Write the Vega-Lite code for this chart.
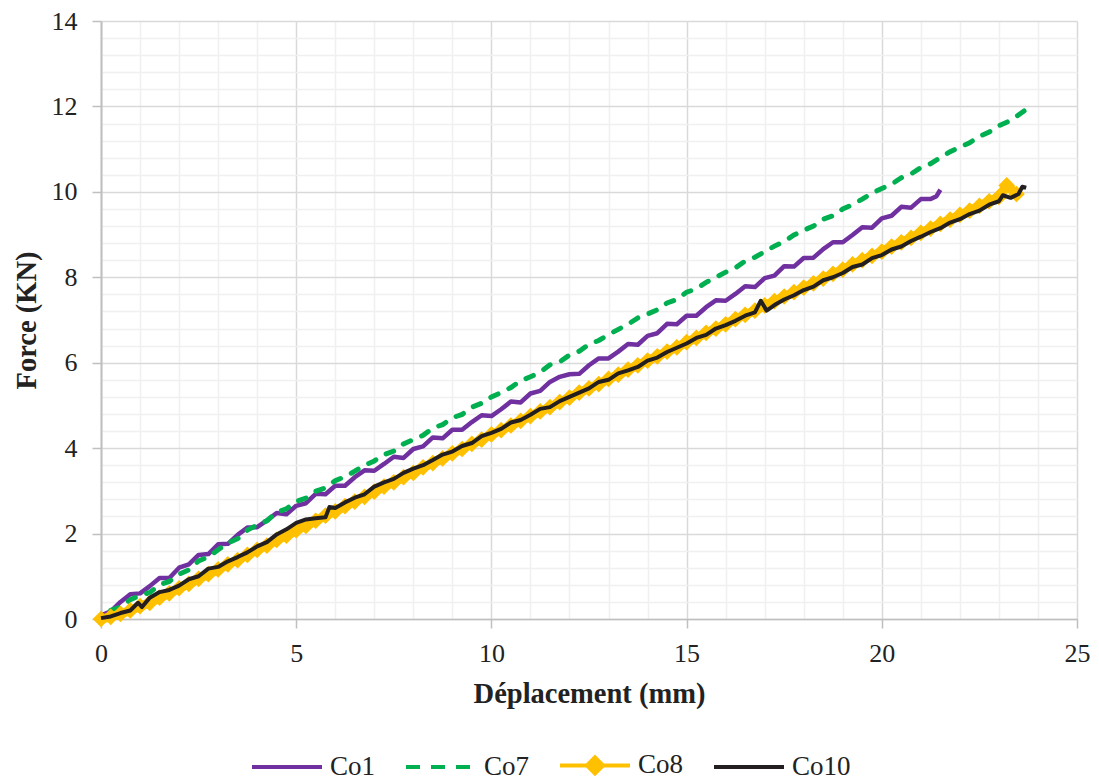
{
"$schema": "https://vega.github.io/schema/vega-lite/v6.json",
"width": 976,
"height": 598,
"autosize": {"type": "none"},
"padding": {"left": 101, "top": 21, "right": 22, "bottom": 164},
"background": "white",
"config": {"font": "Liberation Serif", "view": {"stroke": null}},
"datasets": {
"co1": [{"x":0,"y":0.08},{"x":0.25,"y":0.18},{"x":0.5,"y":0.4},{"x":0.75,"y":0.58},{"x":1,"y":0.6},{"x":1.25,"y":0.77},{"x":1.5,"y":0.96},{"x":1.75,"y":0.96},{"x":2,"y":1.2},{"x":2.25,"y":1.28},{"x":2.5,"y":1.5},{"x":2.75,"y":1.52},{"x":3,"y":1.75},{"x":3.25,"y":1.76},{"x":3.5,"y":1.97},{"x":3.75,"y":2.14},{"x":4,"y":2.15},{"x":4.25,"y":2.31},{"x":4.5,"y":2.48},{"x":4.75,"y":2.45},{"x":5,"y":2.65},{"x":5.25,"y":2.71},{"x":5.5,"y":2.93},{"x":5.75,"y":2.92},{"x":6,"y":3.12},{"x":6.25,"y":3.12},{"x":6.5,"y":3.32},{"x":6.75,"y":3.48},{"x":7,"y":3.47},{"x":7.25,"y":3.63},{"x":7.5,"y":3.8},{"x":7.75,"y":3.77},{"x":8,"y":3.98},{"x":8.25,"y":4.04},{"x":8.5,"y":4.25},{"x":8.75,"y":4.23},{"x":9,"y":4.43},{"x":9.25,"y":4.43},{"x":9.5,"y":4.61},{"x":9.75,"y":4.77},{"x":10,"y":4.75},{"x":10.25,"y":4.91},{"x":10.5,"y":5.09},{"x":10.75,"y":5.07},{"x":11,"y":5.28},{"x":11.25,"y":5.34},{"x":11.5,"y":5.55},{"x":11.75,"y":5.67},{"x":12,"y":5.73},{"x":12.25,"y":5.74},{"x":12.5,"y":5.94},{"x":12.75,"y":6.1},{"x":13,"y":6.1},{"x":13.25,"y":6.26},{"x":13.5,"y":6.44},{"x":13.75,"y":6.42},{"x":14,"y":6.63},{"x":14.25,"y":6.69},{"x":14.5,"y":6.91},{"x":14.75,"y":6.9},{"x":15,"y":7.1},{"x":15.25,"y":7.1},{"x":15.5,"y":7.3},{"x":15.75,"y":7.46},{"x":16,"y":7.45},{"x":16.25,"y":7.61},{"x":16.5,"y":7.79},{"x":16.75,"y":7.77},{"x":17,"y":7.98},{"x":17.25,"y":8.04},{"x":17.5,"y":8.26},{"x":17.75,"y":8.25},{"x":18,"y":8.45},{"x":18.25,"y":8.46},{"x":18.5,"y":8.66},{"x":18.75,"y":8.82},{"x":19,"y":8.82},{"x":19.25,"y":8.99},{"x":19.5,"y":9.17},{"x":19.75,"y":9.16},{"x":20,"y":9.38},{"x":20.25,"y":9.44},{"x":20.5,"y":9.65},{"x":20.75,"y":9.63},{"x":21,"y":9.83},{"x":21.25,"y":9.83},{"x":21.4,"y":9.9},{"x":21.5,"y":10.05}],
"co7": [{"x":0.25,"y":0.2},{"x":0.5,"y":0.28},{"x":0.75,"y":0.45},{"x":1,"y":0.55},{"x":1.25,"y":0.62},{"x":1.5,"y":0.8},{"x":1.75,"y":0.88},{"x":2,"y":1.05},{"x":2.25,"y":1.15},{"x":2.5,"y":1.36},{"x":2.75,"y":1.45},{"x":3,"y":1.62},{"x":3.25,"y":1.78},{"x":3.5,"y":1.88},{"x":3.75,"y":2.08},{"x":4,"y":2.2},{"x":4.25,"y":2.3},{"x":4.5,"y":2.5},{"x":4.75,"y":2.58},{"x":5,"y":2.75},{"x":5.25,"y":2.83},{"x":5.5,"y":2.99},{"x":5.75,"y":3.07},{"x":6,"y":3.24},{"x":6.25,"y":3.33},{"x":6.5,"y":3.46},{"x":6.75,"y":3.6},{"x":7,"y":3.7},{"x":7.25,"y":3.85},{"x":7.5,"y":3.93},{"x":7.75,"y":4.1},{"x":8,"y":4.2},{"x":8.25,"y":4.3},{"x":8.5,"y":4.47},{"x":8.75,"y":4.55},{"x":9,"y":4.71},{"x":9.25,"y":4.79},{"x":9.5,"y":4.96},{"x":9.75,"y":5.05},{"x":10,"y":5.2},{"x":10.25,"y":5.3},{"x":10.5,"y":5.42},{"x":10.75,"y":5.58},{"x":11,"y":5.67},{"x":11.25,"y":5.78},{"x":11.5,"y":5.95},{"x":11.75,"y":6.02},{"x":12,"y":6.18},{"x":12.25,"y":6.27},{"x":12.5,"y":6.43},{"x":12.75,"y":6.52},{"x":13,"y":6.66},{"x":13.25,"y":6.78},{"x":13.5,"y":6.9},{"x":13.75,"y":7.05},{"x":14,"y":7.14},{"x":14.25,"y":7.24},{"x":14.5,"y":7.4},{"x":14.75,"y":7.48},{"x":15,"y":7.65},{"x":15.25,"y":7.73},{"x":15.5,"y":7.88},{"x":15.75,"y":8},{"x":16,"y":8.12},{"x":16.25,"y":8.22},{"x":16.5,"y":8.38},{"x":16.75,"y":8.47},{"x":17,"y":8.6},{"x":17.25,"y":8.73},{"x":17.5,"y":8.84},{"x":17.75,"y":8.99},{"x":18,"y":9.1},{"x":18.25,"y":9.2},{"x":18.5,"y":9.36},{"x":18.75,"y":9.44},{"x":19,"y":9.6},{"x":19.25,"y":9.7},{"x":19.5,"y":9.83},{"x":19.75,"y":9.97},{"x":20,"y":10.08},{"x":20.25,"y":10.18},{"x":20.5,"y":10.33},{"x":20.75,"y":10.42},{"x":21,"y":10.57},{"x":21.25,"y":10.66},{"x":21.5,"y":10.8},{"x":21.75,"y":10.94},{"x":22,"y":11.05},{"x":22.25,"y":11.15},{"x":22.5,"y":11.3},{"x":22.75,"y":11.4},{"x":23,"y":11.55},{"x":23.25,"y":11.65},{"x":23.5,"y":11.8},{"x":23.7,"y":11.93}],
"co8": [{"x":0,"y":0},{"x":0.25,"y":0.05},{"x":0.5,"y":0.12},{"x":0.75,"y":0.2},{"x":1,"y":0.3},{"x":1.25,"y":0.38},{"x":1.5,"y":0.5},{"x":1.75,"y":0.6},{"x":2,"y":0.72},{"x":2.25,"y":0.82},{"x":2.5,"y":0.94},{"x":2.75,"y":1.05},{"x":3,"y":1.16},{"x":3.25,"y":1.28},{"x":3.5,"y":1.38},{"x":3.75,"y":1.5},{"x":4,"y":1.62},{"x":4.25,"y":1.72},{"x":4.5,"y":1.85},{"x":4.75,"y":1.95},{"x":5,"y":2.08},{"x":5.25,"y":2.18},{"x":5.5,"y":2.3},{"x":5.75,"y":2.42},{"x":6,"y":2.52},{"x":6.25,"y":2.64},{"x":6.5,"y":2.75},{"x":6.75,"y":2.86},{"x":7,"y":2.98},{"x":7.25,"y":3.1},{"x":7.5,"y":3.2},{"x":7.75,"y":3.32},{"x":8,"y":3.42},{"x":8.25,"y":3.55},{"x":8.5,"y":3.65},{"x":8.75,"y":3.76},{"x":9,"y":3.88},{"x":9.25,"y":3.98},{"x":9.5,"y":4.1},{"x":9.75,"y":4.2},{"x":10,"y":4.32},{"x":10.25,"y":4.42},{"x":10.5,"y":4.53},{"x":10.75,"y":4.64},{"x":11,"y":4.75},{"x":11.25,"y":4.86},{"x":11.5,"y":4.96},{"x":11.75,"y":5.08},{"x":12,"y":5.18},{"x":12.25,"y":5.3},{"x":12.5,"y":5.4},{"x":12.75,"y":5.5},{"x":13,"y":5.62},{"x":13.25,"y":5.72},{"x":13.5,"y":5.84},{"x":13.75,"y":5.94},{"x":14,"y":6.05},{"x":14.25,"y":6.15},{"x":14.5,"y":6.26},{"x":14.75,"y":6.36},{"x":15,"y":6.48},{"x":15.25,"y":6.58},{"x":15.5,"y":6.7},{"x":15.75,"y":6.8},{"x":16,"y":6.9},{"x":16.25,"y":7.02},{"x":16.5,"y":7.12},{"x":16.75,"y":7.22},{"x":17,"y":7.34},{"x":17.25,"y":7.44},{"x":17.5,"y":7.55},{"x":17.75,"y":7.65},{"x":18,"y":7.76},{"x":18.25,"y":7.86},{"x":18.5,"y":7.97},{"x":18.75,"y":8.08},{"x":19,"y":8.18},{"x":19.25,"y":8.3},{"x":19.5,"y":8.4},{"x":19.75,"y":8.5},{"x":20,"y":8.6},{"x":20.25,"y":8.72},{"x":20.5,"y":8.82},{"x":20.75,"y":8.92},{"x":21,"y":9.04},{"x":21.25,"y":9.14},{"x":21.5,"y":9.25},{"x":21.75,"y":9.35},{"x":22,"y":9.46},{"x":22.25,"y":9.56},{"x":22.5,"y":9.67},{"x":22.75,"y":9.78},{"x":23,"y":9.88},{"x":23.2,"y":10.15},{"x":23.45,"y":9.95}],
"co10": [{"x":0,"y":0.02},{"x":0.25,"y":0.06},{"x":0.5,"y":0.14},{"x":0.75,"y":0.2},{"x":0.95,"y":0.38},{"x":1.05,"y":0.28},{"x":1.25,"y":0.5},{"x":1.5,"y":0.63},{"x":1.75,"y":0.68},{"x":2,"y":0.78},{"x":2.25,"y":0.93},{"x":2.5,"y":1},{"x":2.75,"y":1.18},{"x":3,"y":1.22},{"x":3.25,"y":1.35},{"x":3.5,"y":1.45},{"x":3.75,"y":1.56},{"x":4,"y":1.7},{"x":4.25,"y":1.8},{"x":4.5,"y":1.98},{"x":4.75,"y":2.1},{"x":5,"y":2.25},{"x":5.25,"y":2.33},{"x":5.5,"y":2.36},{"x":5.75,"y":2.38},{"x":5.85,"y":2.62},{"x":6,"y":2.6},{"x":6.25,"y":2.73},{"x":6.5,"y":2.84},{"x":6.75,"y":2.92},{"x":7,"y":3.1},{"x":7.25,"y":3.2},{"x":7.5,"y":3.28},{"x":7.75,"y":3.42},{"x":8,"y":3.52},{"x":8.25,"y":3.6},{"x":8.5,"y":3.72},{"x":8.75,"y":3.85},{"x":9,"y":3.92},{"x":9.25,"y":4.05},{"x":9.5,"y":4.12},{"x":9.75,"y":4.28},{"x":10,"y":4.36},{"x":10.25,"y":4.45},{"x":10.5,"y":4.6},{"x":10.75,"y":4.66},{"x":11,"y":4.78},{"x":11.25,"y":4.92},{"x":11.5,"y":4.96},{"x":11.75,"y":5.1},{"x":12,"y":5.2},{"x":12.25,"y":5.3},{"x":12.5,"y":5.4},{"x":12.75,"y":5.55},{"x":13,"y":5.6},{"x":13.25,"y":5.75},{"x":13.5,"y":5.82},{"x":13.75,"y":5.9},{"x":14,"y":6.05},{"x":14.25,"y":6.12},{"x":14.5,"y":6.25},{"x":14.75,"y":6.35},{"x":15,"y":6.45},{"x":15.25,"y":6.58},{"x":15.5,"y":6.65},{"x":15.75,"y":6.8},{"x":16,"y":6.88},{"x":16.25,"y":6.98},{"x":16.5,"y":7.1},{"x":16.75,"y":7.18},{"x":16.9,"y":7.45},{"x":17.05,"y":7.22},{"x":17.25,"y":7.35},{"x":17.5,"y":7.48},{"x":17.75,"y":7.58},{"x":18,"y":7.7},{"x":18.25,"y":7.78},{"x":18.5,"y":7.93},{"x":18.75,"y":8},{"x":19,"y":8.1},{"x":19.25,"y":8.24},{"x":19.5,"y":8.3},{"x":19.75,"y":8.45},{"x":20,"y":8.52},{"x":20.25,"y":8.65},{"x":20.5,"y":8.72},{"x":20.75,"y":8.85},{"x":21,"y":8.95},{"x":21.25,"y":9.06},{"x":21.5,"y":9.15},{"x":21.75,"y":9.28},{"x":22,"y":9.36},{"x":22.25,"y":9.48},{"x":22.5,"y":9.56},{"x":22.75,"y":9.7},{"x":23,"y":9.78},{"x":23.1,"y":9.92},{"x":23.3,"y":9.86},{"x":23.5,"y":9.95},{"x":23.6,"y":10.12},{"x":23.7,"y":10.1}]
},
"layer": [
{
"data": {"name": "co1"},
"mark": {"type": "line", "strokeWidth": 4.5, "strokeJoin": "round"},
"encoding": {
"x": {"field": "x", "type": "quantitative", "scale": {"domain": [0, 25], "nice": false},
"axis": {"title": "Déplacement (mm)", "values": [0,1,2,3,4,5,6,7,8,9,10,11,12,13,14,15,16,17,18,19,20,21,22,23,24,25], "tickCount": 200, "tickMinStep": 0.1, "format": "d",
"labelExpr": "datum.value % 5 === 0 ? datum.label : ''",
"grid": true,
"gridColor": {"condition": {"test": "datum.value % 5 === 0", "value": "#D9D9D9"}, "value": "#F0F0F0"},
"gridWidth": 1.5,
"tickColor": "#BFBFBF", "tickWidth": 1.5, "tickSize": 9,
"tickOpacity": {"condition": {"test": "datum.value % 5 === 0", "value": 1}, "value": 0},
"domainColor": "#BFBFBF", "domainWidth": 1.5,
"labelFont": "Liberation Serif", "labelFontSize": 26, "labelColor": "#222222", "labelPadding": 12,
"labelFlush": false, "labelOverlap": false,
"titleFont": "Liberation Serif", "titleFontSize": 28.5, "titleFontWeight": "bold", "titleColor": "#222222", "titlePadding": 13}},
"y": {"field": "y", "type": "quantitative", "scale": {"domain": [0, 14], "nice": false},
"axis": {"title": "Force (KN)", "values": [0,0.4,0.8,1.2,1.6,2,2.4,2.8,3.2,3.6,4,4.4,4.8,5.2,5.6,6,6.4,6.8,7.2,7.6,8,8.4,8.8,9.2,9.6,10,10.4,10.8,11.2,11.6,12,12.4,12.8,13.2,13.6,14], "tickCount": 200, "tickMinStep": 0.1,
"labelExpr": "abs(datum.value/2 - round(datum.value/2)) < 0.01 ? format(datum.value, 'd') : ''",
"grid": true,
"gridColor": {"condition": {"test": "abs(datum.value/2 - round(datum.value/2)) < 0.01", "value": "#D9D9D9"}, "value": "#F0F0F0"},
"gridWidth": 1.5,
"tickColor": "#BFBFBF", "tickWidth": 1.5, "tickSize": 9,
"tickOpacity": {"condition": {"test": "abs(datum.value/2 - round(datum.value/2)) < 0.01", "value": 1}, "value": 0},
"domainColor": "#BFBFBF", "domainWidth": 2,
"labelFont": "Liberation Serif", "labelFontSize": 26, "labelColor": "#222222", "labelPadding": 15,
"labelFlush": false, "labelOverlap": false,
"titleFont": "Liberation Serif", "titleFontSize": 28.5, "titleFontWeight": "bold", "titleColor": "#222222", "titlePadding": 10}},
"color": {"datum": "Co1", "type": "nominal",
"scale": {"domain": ["Co1", "Co7", "Co8", "Co10"], "range": ["#7030A0", "#00B050", "#FFC000", "#231F20"]},
"legend": {"orient": "none", "legendX": 149, "legendY": 707, "direction": "horizontal", "title": null,
"labelFont": "Liberation Serif", "labelFontSize": 27, "labelColor": "#222222", "labelOffset": 6,
"columnPadding": 22, "symbolType": "stroke", "symbolSize": 4900, "symbolStrokeWidth": 4, "symbolOpacity": 1, "padding": 0,
"encode": {"symbols": {"update": {
"shape": {"signal": "datum.value === 'Co8' ? 'M-1,0L1,0M0,-0.23L0.23,0L0,0.23L-0.23,0Z' : 'stroke'"},
"strokeDash": {"signal": "datum.value === 'Co7' ? [14,11] : null"},
"fill": {"signal": "datum.value === 'Co8' ? '#FFC000' : 'transparent'"},
"opacity": {"value": 1}
}}}}}
}
},
{
"data": {"name": "co7"},
"mark": {"type": "line", "strokeWidth": 5, "strokeDash": [8, 12], "strokeCap": "round"},
"encoding": {"x": {"field": "x", "type": "quantitative"}, "y": {"field": "y", "type": "quantitative"}, "color": {"datum": "Co7", "type": "nominal"}}
},
{
"data": {"name": "co8"},
"mark": {"type": "line", "strokeWidth": 9},
"encoding": {"x": {"field": "x", "type": "quantitative"}, "y": {"field": "y", "type": "quantitative"}, "color": {"datum": "Co8", "type": "nominal"}}
},
{
"data": {"name": "co8"},
"mark": {"type": "point", "shape": "diamond", "filled": true, "size": 280, "opacity": 1},
"encoding": {"x": {"field": "x", "type": "quantitative"}, "y": {"field": "y", "type": "quantitative"}, "color": {"datum": "Co8", "type": "nominal"}}
},
{
"data": {"name": "co10"},
"mark": {"type": "line", "strokeWidth": 4, "strokeJoin": "round"},
"encoding": {"x": {"field": "x", "type": "quantitative"}, "y": {"field": "y", "type": "quantitative"}, "color": {"datum": "Co10", "type": "nominal"}}
}
]
}
